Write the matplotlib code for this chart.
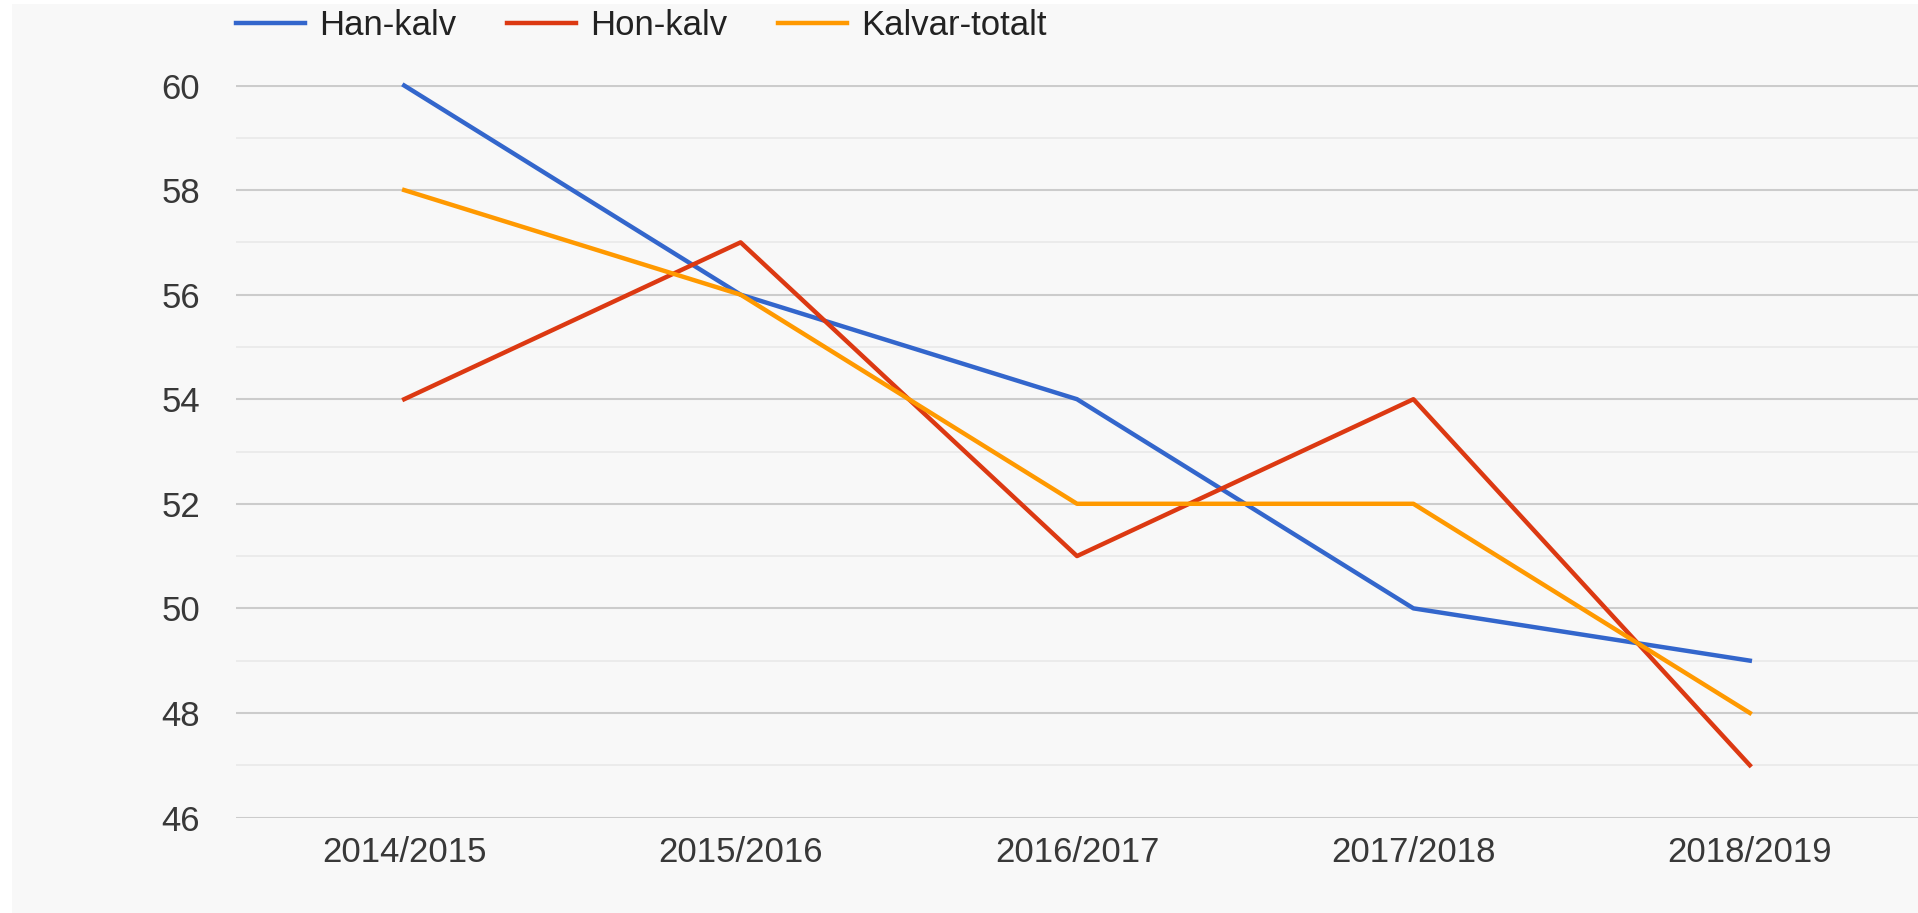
import matplotlib
matplotlib.use("Agg")
import matplotlib.pyplot as plt
from matplotlib.patches import Rectangle
from matplotlib.ticker import MultipleLocator

plt.rcParams['font.family'] = ['Liberation Sans', 'DejaVu Sans']

# data
seasons = ['2014/2015', '2015/2016', '2016/2017', '2017/2018', '2018/2019']
han_kalv = [60, 56, 54, 50, 49]
hon_kalv = [54, 57, 51, 54, 47]
kalvar_totalt = [58, 56, 52, 52, 48]

fig = plt.figure(figsize=(19.18, 9.13), dpi=100, facecolor='white')
# grey chart background, white strip on the left and top
fig.patches.append(Rectangle((12 / 1918, 0), 1, 1 - 4 / 913, transform=fig.transFigure,
                             facecolor='#f8f8f8', edgecolor='none', zorder=-10))

ax_top, ax_bot = 85.5, 817.5
ax = fig.add_axes([236 / 1918, 1 - ax_bot / 913, 1 - 236 / 1918, (ax_bot - ax_top) / 913])
ax.set_facecolor('none')

x = range(len(seasons))
ax.plot(x, han_kalv, color='#3366cc', lw=3.2, label='Han-kalv', clip_on=False, zorder=3)
ax.plot(x, hon_kalv, color='#dc3912', lw=3.2, label='Hon-kalv', clip_on=False, zorder=3)
ax.plot(x, kalvar_totalt, color='#ff9900', lw=3.2, label='Kalvar-totalt', clip_on=False, zorder=3)

ax.set_xlim(-0.5, 4.5)
ax.set_ylim(46, 60)
ax.set_xticks(list(x))
ax.set_xticklabels(seasons)
ax.yaxis.set_major_locator(MultipleLocator(2))
ax.yaxis.set_minor_locator(MultipleLocator(1))
ax.grid(axis='y', which='major', color='#cccccc', lw=1.5)
ax.grid(axis='y', which='minor', color='#e8e8e8', lw=1.1)
ax.set_axisbelow(True)
for s in ax.spines.values():
    s.set_visible(False)
ax.tick_params(axis='both', which='both', length=0, labelsize=25, labelcolor='#383838')
ax.tick_params(axis='y', pad=26)
ax.tick_params(axis='x', pad=13)

leg = ax.legend(loc='center left', bbox_to_anchor=(0.0, 1 + 60 / (ax_bot - ax_top)), ncol=3,
                frameon=False, fontsize=25, handlelength=2.0, handletextpad=0.4,
                columnspacing=1.45, borderaxespad=0.0, borderpad=0.0)
for t in leg.get_texts():
    t.set_color('#222222')

fig.savefig('out.png', dpi=100, facecolor='white')
